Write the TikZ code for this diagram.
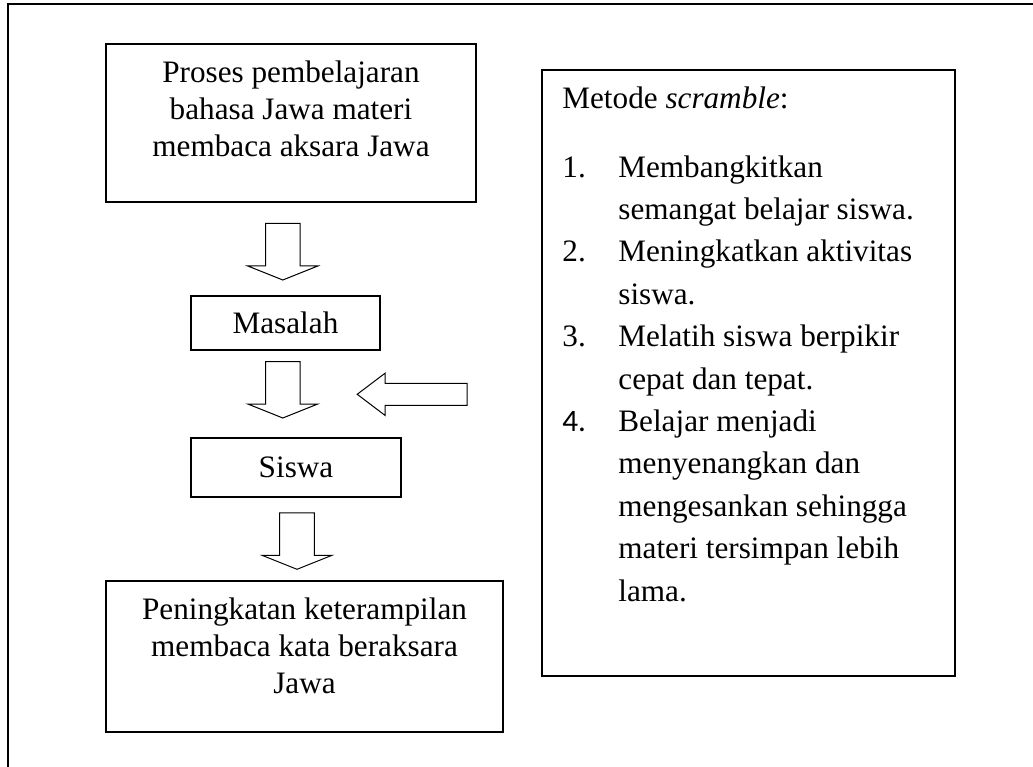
\documentclass[tikz,border=0pt]{standalone}
\usepackage{fontspec}
\setmainfont{Liberation Serif}
\newfontfamily\numfont{Carlito}
\usepackage{tikz}
\usetikzlibrary{positioning,calc}

\begin{document}
\begin{tikzpicture}
		[x=1pt,y=1pt,
		box/.style={draw,line width=1.6pt,inner sep=0pt},
		flowtxt/.style={align=center,inner sep=0pt,font=\fontsize{31.2}{37}\selectfont},
		listtxt/.style={inner sep=0pt,font=\fontsize{31.2}{42.4}\selectfont},
		blockarrow/.style={draw,line width=1pt,line join=miter},
		downarrow/.pic={\draw[blockarrow] (-17.3,0) -- (17.3,0) -- (17.3,-42.5) -- (35,-42.5)
			-- (0,-56.5) -- (-35,-42.5) -- (-17.3,-42.5) -- cycle;}]
		\useasboundingbox (0,0) rectangle (1033,-767);
		\draw[line width=2pt] (1033,-4) -- (8,-4) -- (8,-767);
		% alur kiri
		\node[box,minimum width=370pt,minimum height=158pt] (proses) at (291,-123) {};
		\node[flowtxt,anchor=north] (prosestxt) at ($(proses.north)+(0,-17.7)$)
			{Proses pembelajaran\\bahasa Jawa materi\\membaca aksara Jawa};
		\node[box,flowtxt,minimum width=189pt,minimum height=54pt] (masalah) at (285.5,-323) {Masalah};
		\node[box,flowtxt,minimum width=210pt,minimum height=59pt] (siswa) at (296,-467.5) {Siswa};
		\node[box,minimum width=397pt,minimum height=151pt] (hasil) at (304.5,-656.5) {};
		\node[flowtxt,anchor=north] (hasiltxt) at ($(hasil.north)+(0,-17.7)$)
			{Peningkatan keterampilan\\membaca kata beraksara\\Jawa};
		\pic at ($(proses.south)+(-8.2,-20.7)$) {downarrow};
		\pic at ($(masalah.south)+(-2.7,-10.7)$) {downarrow};
		\pic at ($(siswa.south)+(1,-15)$) {downarrow};
		% metode scramble
		\node[box,minimum width=413pt,minimum height=606pt] (metode) at (748.5,-373) {};
		\node[listtxt,anchor=north west] (metodetxt) at ($(metode.north west)+(21,-9.3)$) {%
			\begin{tabular}{@{}p{56pt}@{}l@{}}
				\multicolumn{2}{@{}l@{}}{Metode \textit{scramble}:}\\[26.3pt]
				1. & Membangkitkan\\
				   & semangat belajar siswa.\\
				2. & Meningkatkan aktivitas\\
				   & siswa.\\
				3. & Melatih siswa berpikir\\
				   & cepat dan tepat.\\
				{\numfont 4.} & Belajar menjadi\\
				   & menyenangkan dan\\
				   & mengesankan sehingga\\
				   & materi tersimpan lebih\\
				   & lama.
			\end{tabular}};
		\draw[blockarrow] ($(metode.west)+(-74,-10.3)$) -- ++(-82,0) -- ++(0,10.2) -- ++(-28,-21.2)
			-- ++(28,-21.2) -- ++(0,10.2) -- ++(82,0) -- cycle;
\end{tikzpicture}
\end{document}
